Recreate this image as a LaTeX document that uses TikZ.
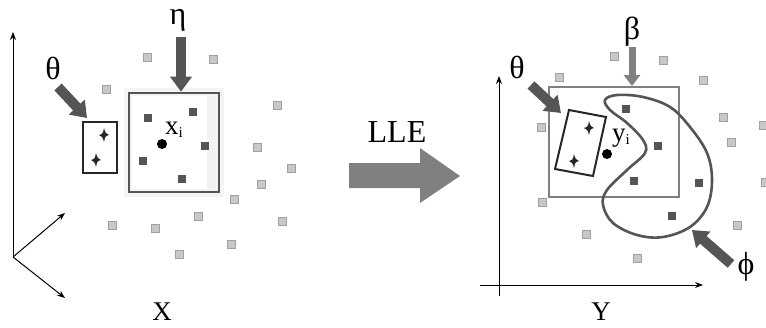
\documentclass[tikz,border=0pt]{standalone}
\usepackage{fontspec}
\setmainfont{Liberation Serif}
\usetikzlibrary{arrows.meta}
\definecolor{darkg}{HTML}{555555}
\definecolor{lightsq}{HTML}{C8C8C8}
\definecolor{midg}{HTML}{808080}
\tikzset{
  lsq/.style={fill=lightsq,draw=lightsq!80!black,line width=0.4pt,minimum size=8pt,inner sep=0pt,rectangle},
  dsq/.style={fill=darkg,draw=none,minimum size=8pt,inner sep=0pt,rectangle},
  blockarrow/.style={draw=darkg,line width=10pt,-{Triangle[width=21pt,length=15pt]}},
  axis/.style={draw=black,line width=1pt,-{Stealth[length=8pt,width=6pt]}},
  lab/.style={inner sep=0pt,font=\fontsize{32}{34}\selectfont},
  dot/.style={circle,fill=black,minimum size=10pt,inner sep=0pt},
  starsh/.style={fill=black!85}
}
\newcommand{\sparkle}[1]{\fill[starsh] #1 ++(0,-7) .. controls +(1.2,4.6) .. ++(5,7) .. controls +(-3.8,1.2) .. ++(-5,7) .. controls +(-1.2,-4.6) .. ++(-5,-7) .. controls +(3.8,-1.2) .. cycle;}
\begin{document}
\begin{tikzpicture}[x=1pt,y=-1pt]
\useasboundingbox (0,0) rectangle (766,327);
% ---------- left panel ----------
\coordinate (o1) at (13,257);
\coordinate (a1) at (13,32);
\coordinate (a2) at (65,213);
\coordinate (a3) at (65,298);
\draw[axis] (o1) -- (a1);
\draw[axis] (o1) -- (a2);
\draw[axis] (o1) -- (a3);
% light squares
\foreach \p in {(147,57),(213,59),(106,89),(277,105),(257,147),(291,168),(261,184),(234,199),(198,216),(282,221),(112,225),(155,228),(231,244),(179,254)}
  \node[lsq] at \p {};
% neighbourhood box with glow
\fill[gray!9] (124,88) rectangle (224,197);
\fill[white] (132,96) rectangle (216,189);
\fill[gray!10] (207,96) rectangle (216,189);
\node[draw=darkg,line width=2.6pt,minimum width=90pt,minimum height=99pt,inner sep=0pt] (box1) at (174,142.5) {};
\foreach \p in {(148,118),(193,112),(205,146),(143,161),(182,179)}
  \node[dsq] at \p {};
\node[dot] (xi) at (162,144) {};
\node[inner sep=0pt,anchor=base west] (xil) at (165,134) {\fontsize{27}{29}\selectfont x\raisebox{-3pt}{\fontsize{15}{16}\selectfont i}};
% theta box
\node[draw=black!85,line width=2pt,minimum width=34pt,minimum height=51pt,inner sep=0pt] (th1) at (100,147.5) {};
\sparkle{(104,135)}
\sparkle{(96,160)}
\node[lab] (theta1) at (53,68) {θ};
\coordinate (t1s) at (58,87);
\coordinate (t1e) at (87,118);
\draw[blockarrow] (t1s) -- (t1e);
\node[lab] (eta) at (178,20) {η};
\coordinate (e1s) at (181,37);
\draw[blockarrow] (e1s) -- (box1.north -| e1s);
\node[inner sep=0pt,font=\fontsize{27}{29}\selectfont] (X) at (162,312) {X};
% ---------- LLE arrow ----------
\node[inner sep=0pt,font=\fontsize{32}{34}\selectfont] (lle) at (397,132) {LLE};
\fill[midg] (349,163) -- (420,163) -- (420,148) -- (460,176) -- (420,203) -- (420,188) -- (349,188) -- cycle;
% ---------- right panel ----------
\coordinate (o2) at (499,296);
\coordinate (b1) at (499,76);
\coordinate (b0) at (480,285);
\coordinate (b2) at (703,285);
\draw[axis] (o2) -- (b1);
\draw[axis] (b0) -- (b2);
\foreach \p in {(614,56),(663,60),(559,77),(703,80),(541,127),(723,117),(763,125),(731,142),(765,182),(542,202),(586,234),(737,225),(637,258)}
  \node[lsq] at \p {};
\node[draw=midg,line width=2pt,minimum width=130pt,minimum height=110pt,inner sep=0pt] (box2) at (614,142) {};
% blob
\draw[darkg,line width=2.6pt] plot[smooth cycle,tension=0.6] coordinates {(605,100) (617,95) (643,97) (670,107) (690,127) (707,153) (712,180) (707,207) (690,227) (663,237) (637,235) (613,223) (603,205) (607,190) (627,170) (645,153) (643,140) (627,123) (610,110)};
\foreach \p in {(626,109),(658,146),(634,181),(699,183),(672,216)}
  \node[dsq] at \p {};
% tilted theta box
\draw[black!85,line width=2pt] (569,110) -- (606,117) -- (593,176) -- (555,169) -- cycle;
\coordinate (th2) at (561,113);
\sparkle{(589,128)}
\sparkle{(574,161)}
\node[dot] (yi) at (607,154) {};
\node[inner sep=0pt,anchor=base west] (yil) at (612,141) {\fontsize{27}{29}\selectfont y\raisebox{-3pt}{\fontsize{15}{16}\selectfont i}};
\node[lab] (theta2) at (517,67) {θ};
\coordinate (t2s) at (531,85);
\draw[blockarrow] (t2s) -- (th2);
\node[lab] (beta) at (632,32) {β};
\coordinate (bs) at (632,47);
\draw[draw=midg,line width=7pt,-{Triangle[width=16pt,length=11pt]}] (bs) -- (box2.north -| bs);
\node[lab] (phi) at (746,267) {ϕ};
\coordinate (ps) at (731,264);
\coordinate (pe) at (692,230);
\draw[blockarrow] (ps) -- (pe);
\node[inner sep=0pt,font=\fontsize{27}{29}\selectfont] (Y) at (601,312) {Y};
\end{tikzpicture}
\end{document}
